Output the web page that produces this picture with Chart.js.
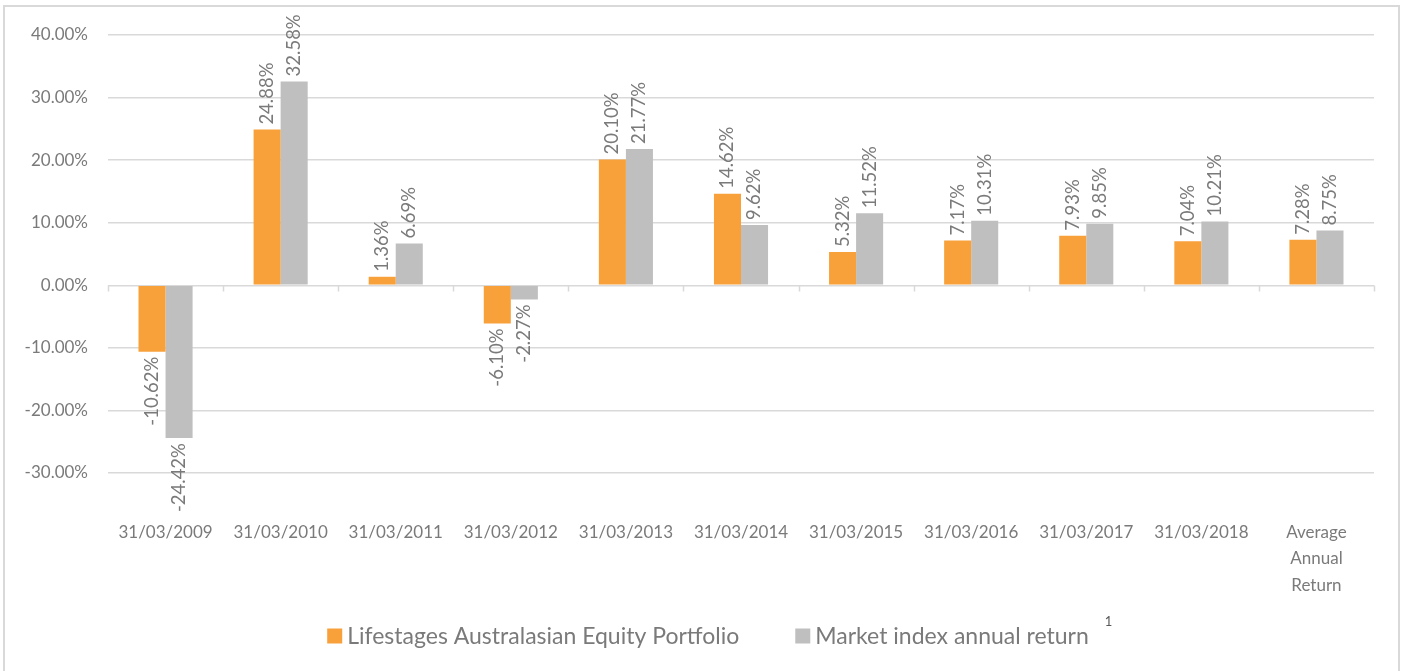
<!DOCTYPE html>
<html>
<head>
<meta charset="utf-8">
<script src="https://cdn.jsdelivr.net/npm/chart.js@4.4.1/dist/chart.umd.min.js"></script>
<style>
  html, body { margin: 0; padding: 0; background: #ffffff; }
  #wrap { position: relative; width: 1408px; height: 671px; overflow: hidden; }
  #frame { position: absolute; left: 3px; top: 5px; width: 1397px; height: 680px;
           border: 2px solid #d9d9d9; box-sizing: border-box; pointer-events: none; }
  canvas { position: absolute; left: 0; top: 0; }
</style>
</head>
<body>
<div id="wrap">
  <canvas id="returnsChart" width="1408" height="671"></canvas>
  <div id="frame"></div>
</div>
<script>
// Annual returns: portfolio vs market index
const categories = ['31/03/2009', '31/03/2010', '31/03/2011', '31/03/2012', '31/03/2013',
    '31/03/2014', '31/03/2015', '31/03/2016', '31/03/2017', '31/03/2018',
    ['Average', 'Annual', 'Return']];
const portfolioReturns = [-10.62, 24.88, 1.36, -6.10, 20.10, 14.62, 5.32, 7.17, 7.93, 7.04, 7.28];
const marketReturns = [-24.42, 32.58, 6.69, -2.27, 21.77, 9.62, 11.52, 10.31, 9.85, 10.21, 8.75];
const seriesNames = ['Lifestages Australasian Equity Portfolio', 'Market index annual return'];
const footnoteMark = '1';
const yMin = -30;
const yMax = 40;
const yStep = 10;

const seriesColors = ['#f8a13b', '#bfbfbf'];
const textGrey = '#7a7a7a';
const gridGrey = '#d9d9d9';
const fontFamily = 'Lato, "Open Sans", sans-serif';

// Rotated value labels at the bar ends
const barLabels = {
    id: 'barLabels',
    afterDatasetsDraw(chart) {
        const ctx = chart.ctx;
        ctx.save();
        ctx.font = '18.5px ' + fontFamily;
        ctx.fillStyle = textGrey;
        ctx.textBaseline = 'middle';
        chart.data.datasets.forEach((ds, di) => {
            chart.getDatasetMeta(di).data.forEach((bar, i) => {
                const v = ds.data[i];
                const text = v.toFixed(2) + '%';
                ctx.save();
                ctx.translate(bar.x, bar.y);
                ctx.rotate(-Math.PI / 2);
                if (v >= 0) {
                    ctx.textAlign = 'left';
                    ctx.fillText(text, 5, 0);
                } else {
                    ctx.textAlign = 'right';
                    ctx.fillText(text, -5, 0);
                }
                ctx.restore();
            });
        });
        ctx.restore();
    }
};

// Tick marks on the zero line between categories
const zeroTicks = {
    id: 'zeroTicks',
    afterDraw(chart) {
        const ctx = chart.ctx;
        const x = chart.scales.x;
        const y0 = Math.round(chart.scales.y.getPixelForValue(0)) + 0.5;
        const step = (x.right - x.left) / categories.length;
        ctx.save();
        ctx.strokeStyle = gridGrey;
        ctx.lineWidth = 1.5;
        ctx.beginPath();
        for (let k = 0; k <= categories.length; k++) {
            const px = Math.round(x.left + step * k) + 0.5;
            ctx.moveTo(px, y0);
            ctx.lineTo(px, y0 + 6);
        }
        ctx.stroke();
        ctx.restore();
    }
};

// Legend under the axis, with the footnote mark after the second entry
const bottomLegend = {
    id: 'bottomLegend',
    afterDraw(chart) {
        const ctx = chart.ctx;
        const box = 15, boxGap = 5, itemGap = 56, cy = 636, centerX = 708;
        ctx.save();
        ctx.font = '23px ' + fontFamily;
        ctx.textBaseline = 'middle';
        ctx.textAlign = 'left';
        const widths = seriesNames.map(n => ctx.measureText(n).width);
        const total = widths.reduce((a, w) => a + box + boxGap + w, 0) + itemGap;
        let x = centerX - total / 2;
        seriesNames.forEach((name, i) => {
            ctx.fillStyle = seriesColors[i];
            ctx.fillRect(x, cy - box / 2, box, box);
            ctx.fillStyle = textGrey;
            ctx.fillText(name, x + box + boxGap, cy + 1);
            x += box + boxGap + widths[i] + itemGap;
        });
        ctx.font = '13px ' + fontFamily;
        ctx.fillStyle = '#595959';
        ctx.fillText(footnoteMark, x - itemGap + 16, cy - 14);
        ctx.restore();
    }
};

const ctx = document.getElementById('returnsChart').getContext('2d');
const chart = new Chart(ctx, {
    type: 'bar',
    data: {
        labels: categories,
        datasets: [{
            label: seriesNames[0],
            data: portfolioReturns,
            backgroundColor: seriesColors[0],
            borderWidth: 0
        }, {
            label: seriesNames[1],
            data: marketReturns,
            backgroundColor: seriesColors[1],
            borderWidth: 0
        }]
    },
    options: {
        responsive: false,
        animation: false,
        devicePixelRatio: 1,
        layout: { padding: { left: 0, right: 34, top: 35, bottom: 70 } },
        datasets: { bar: { categoryPercentage: 0.47, barPercentage: 1 } },
        scales: {
            x: {
                grid: { display: false },
                border: { display: false },
                ticks: {
                    color: textGrey,
                    font: { family: fontFamily, size: 17, lineHeight: 1.53 },
                    padding: 39,
                    maxRotation: 0,
                    autoSkip: false
                },
                afterFit(scale) { scale.height = 128; }
            },
            y: {
                min: yMin,
                max: yMax,
                grid: { color: gridGrey, lineWidth: 1.5, drawTicks: false },
                border: { display: false },
                ticks: {
                    stepSize: yStep,
                    color: textGrey,
                    font: { family: fontFamily, size: 17 },
                    padding: 20,
                    callback: v => v.toFixed(2) + '%'
                },
                afterFit(scale) { scale.width = 108; }
            }
        },
        plugins: {
            legend: { display: false },
            tooltip: { enabled: false }
        }
    },
    plugins: [barLabels, zeroTicks, bottomLegend]
});
</script>
</body>
</html>
